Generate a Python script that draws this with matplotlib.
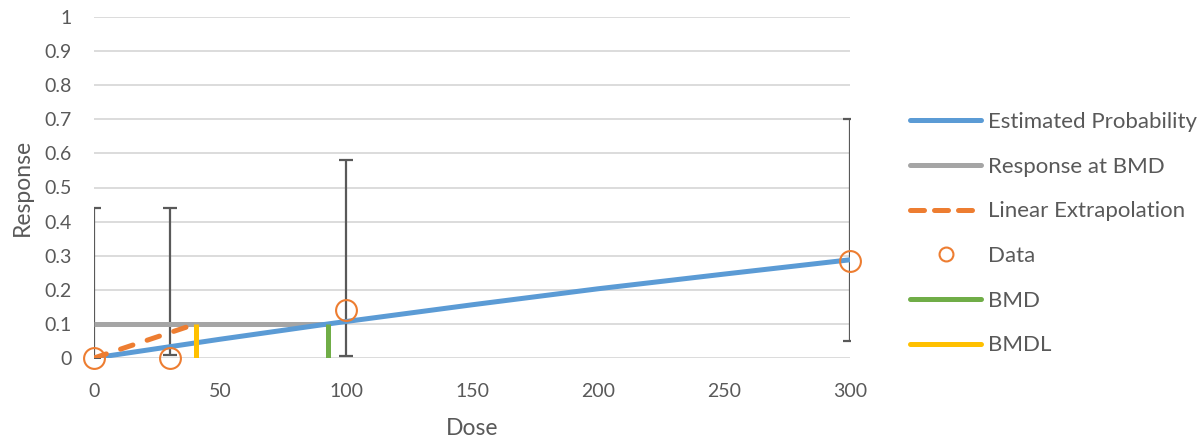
import matplotlib
matplotlib.use("Agg")
import matplotlib.pyplot as plt
from matplotlib.lines import Line2D

# Data
dose = [0, 30, 100, 300]
response = [0.0, 0.0, 0.14, 0.285]
err_low = [0.0, 0.01, 0.005, 0.05]
err_high = [0.44, 0.44, 0.58, 0.70]

est_dose = [0, 30, 50, 93, 100, 150, 200, 250, 300]
est_prob = [0.0, 0.033, 0.055, 0.1, 0.107, 0.156, 0.203, 0.246, 0.288]

bmd = 93
bmdl = 40.5
bmr = 0.1

xticks = [0, 50, 100, 150, 200, 250, 300]
yticks = [0, 0.1, 0.2, 0.3, 0.4, 0.5, 0.6, 0.7, 0.8, 0.9, 1]
ytick_labels = ["0", "0.1", "0.2", "0.3", "0.4", "0.5", "0.6", "0.7", "0.8", "0.9", "1"]

plt.rcParams['font.family'] = ['Lato', 'DejaVu Sans']
txt = '#595959'

fig = plt.figure(figsize=(12.04, 4.45), dpi=100)
ax = fig.add_axes([94/1204, 1-358/445, (850-94)/1204, (358-17)/445])

c_blue = '#5B9BD5'
c_gray = '#A5A5A5'
c_orange = '#ED7D31'
c_green = '#70AD47'
c_yellow = '#FFC000'
lw = 3.6

for y in yticks:
    ax.axhline(y, color='#D9D9D9', lw=1.3, zorder=0)

# error bars (asymmetric bounds, drawn as vertical lines with caps)
ax.vlines(dose, err_low, err_high, color='#595959', lw=1.6, zorder=2)
ax.plot(dose, err_low, linestyle='none', marker='_', markersize=9.5, markeredgewidth=1.6,
        color='#595959', zorder=2)
ax.plot(dose, err_high, linestyle='none', marker='_', markersize=9.5, markeredgewidth=1.6,
        color='#595959', zorder=2)

ax.plot([0, bmd], [bmr, bmr], color=c_gray, lw=lw, solid_capstyle='butt', zorder=3)
ax.plot(est_dose, est_prob, color=c_blue, lw=lw, solid_capstyle='round', zorder=4)
ax.plot([0, bmdl], [0, bmr], color=c_orange, lw=lw, dashes=(2.6, 3.0), dash_capstyle='round', zorder=5)
ax.plot([bmd, bmd], [0, bmr], color=c_green, lw=lw, solid_capstyle='butt', zorder=5)
ax.plot([bmdl, bmdl], [0, bmr], color=c_yellow, lw=lw, solid_capstyle='butt', zorder=5)
ax.plot(dose, response, linestyle='none', marker='o', markersize=15, markerfacecolor='none',
        markeredgecolor=c_orange, markeredgewidth=1.5, zorder=6, clip_on=False)

ax.set_xlim(0, 300)
ax.set_ylim(0, 1)
ax.set_xticks(xticks)
ax.set_yticks(yticks)
ax.set_yticklabels(ytick_labels)
ax.tick_params(axis='both', length=0, labelsize=14, colors=txt)
ax.tick_params(axis='x', pad=18)
ax.tick_params(axis='y', pad=16)
for s in ax.spines.values():
    s.set_visible(False)
ax.set_xlabel('Dose', fontsize=16.5, color=txt, labelpad=13)
ax.set_ylabel('Response', fontsize=16.5, color=txt, labelpad=8)

handles = [
    Line2D([], [], color=c_blue, lw=lw, solid_capstyle='round'),
    Line2D([], [], color=c_gray, lw=lw, solid_capstyle='round'),
    Line2D([], [], color=c_orange, lw=lw, dashes=(2.8, 2.0), dash_capstyle='round'),
    Line2D([], [], linestyle='none', marker='o', markersize=10, markerfacecolor='none',
           markeredgecolor=c_orange, markeredgewidth=1.5),
    Line2D([], [], color=c_green, lw=lw, solid_capstyle='round'),
    Line2D([], [], color=c_yellow, lw=lw, solid_capstyle='round'),
]
labels = ['Estimated Probability', 'Response at BMD', 'Linear Extrapolation', 'Data', 'BMD', 'BMDL']
leg = fig.legend(handles, labels, loc='upper left', bbox_to_anchor=(910/1204, 1-112/445),
                 frameon=False, fontsize=16, handlelength=3.2, handletextpad=0.3,
                 labelspacing=1.11, borderpad=0, borderaxespad=0)
for t in leg.get_texts():
    t.set_color(txt)

fig.savefig('out.png', dpi=100)
